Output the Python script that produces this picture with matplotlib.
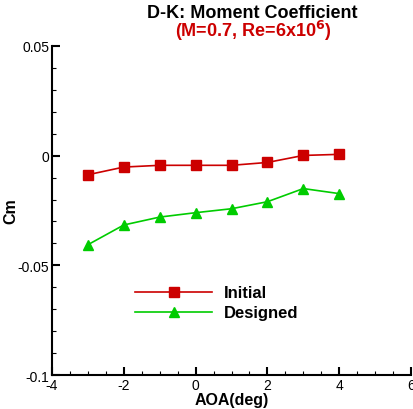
import matplotlib
matplotlib.use("Agg")
import matplotlib.pyplot as plt
from matplotlib.ticker import MultipleLocator, FuncFormatter

plt.rcParams['font.family'] = ['Liberation Sans', 'DejaVu Sans']

aoa = [-3, -2, -1, 0, 1, 2, 3, 4]
cm_initial = [-0.0087, -0.0052, -0.0044, -0.0044, -0.0044, -0.0031, 0.0001, 0.0006]
cm_designed = [-0.0406, -0.0316, -0.0280, -0.0260, -0.0242, -0.0210, -0.0150, -0.0173]

red = '#cc0000'
green = '#00cc00'

fig = plt.figure(figsize=(4.14, 4.10), dpi=100)
ax = fig.add_axes([0.1256, 0.0829, 0.8672, 0.8025])

ax.plot(aoa, cm_initial, color=red, lw=1.2, marker='s', ms=7, label='Initial')
ax.plot(aoa, cm_designed, color=green, lw=1.2, marker='^', ms=7.5, label='Designed')

ax.set_xlim(-4, 6)
ax.set_ylim(-0.1, 0.05)
ax.xaxis.set_major_locator(MultipleLocator(2))
ax.xaxis.set_minor_locator(MultipleLocator(0.5))
ax.yaxis.set_major_locator(MultipleLocator(0.05))
ax.yaxis.set_minor_locator(MultipleLocator(0.01))

def yfmt(v, p):
    if abs(v) < 1e-9:
        return '0'
    return ('%.2f' % v).rstrip('0')
ax.yaxis.set_major_formatter(FuncFormatter(yfmt))
ax.xaxis.set_major_formatter(FuncFormatter(lambda v, p: '%d' % round(v)))

for s in ['top', 'right']:
    ax.spines[s].set_visible(False)
for s in ['left', 'bottom']:
    ax.spines[s].set_linewidth(1.5)

ax.tick_params(which='major', direction='in', length=6, width=1.5, labelsize=10, pad=2)
ax.tick_params(which='minor', direction='in', length=3, width=0.8)

ax.set_xlabel('AOA(deg)', fontsize=11.5, fontweight='bold', labelpad=0)
ax.set_ylabel('Cm', fontsize=11.5, fontweight='bold')
ax.yaxis.set_label_coords(-0.095, 0.5)

fig.text(0.609, 0.968, 'D-K: Moment Coefficient', ha='center', va='center',
         fontsize=13, fontweight='bold', color='black')
fig.text(0.611, 0.925, r'(M=0.7, Re=6x10$^{\mathbf{6}}$)', ha='center', va='center',
         fontsize=13, fontweight='bold', color=red)

ax.legend(loc='upper left', bbox_to_anchor=(0.19, 0.318), frameon=False,
          prop={'weight': 'bold', 'size': 12},
          handlelength=4.6, handletextpad=0.7, labelspacing=0.3)

fig.savefig('out.png', dpi=100)
